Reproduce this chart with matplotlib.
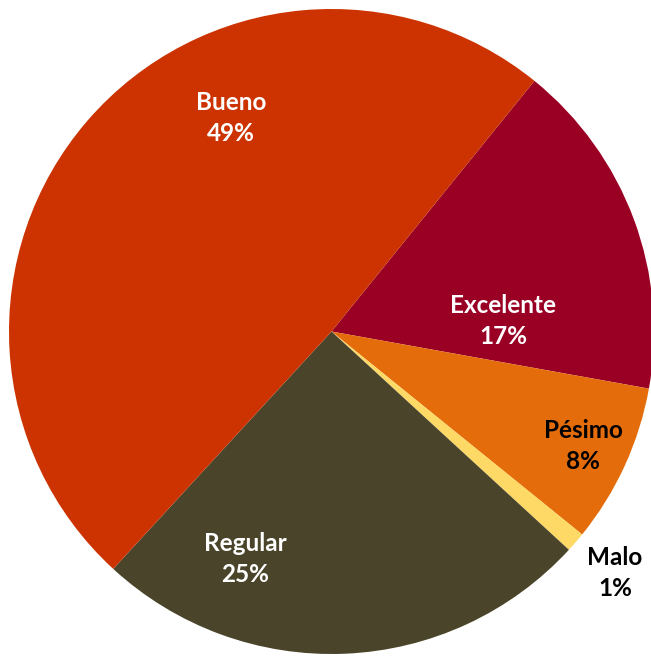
import matplotlib
matplotlib.use("Agg")
import matplotlib.pyplot as plt

# datos del grafico
categorias = ["Excelente", "Pésimo", "Malo", "Regular", "Bueno"]
porcentajes = [17, 8, 1, 25, 49]
colores = ["#990024", "#E46C0A", "#FFD966", "#4A452A", "#CC3300"]
color_texto = ["white", "black", "black", "white", "white"]
# posicion de las etiquetas (en unidades del radio)
pos_etiquetas = [(0.532, 0.033), (0.780, -0.355), (0.879, -0.749),
                 (-0.268, -0.705), (-0.312, 0.662)]

plt.rcParams["font.family"] = ["Lato", "DejaVu Sans"]

W, H = 651, 657
cx, cy, r = 331.5, 331.5, 322.5
fig = plt.figure(figsize=(W / 100, H / 100), dpi=100)
ax = fig.add_axes([0, 0, 1, 1])

wedges, _ = ax.pie(porcentajes, colors=colores, startangle=51, counterclock=False,
                   radius=1, wedgeprops=dict(linewidth=0))

for cat, pct, col, pos in zip(categorias, porcentajes, color_texto, pos_etiquetas):
    ax.text(pos[0], pos[1], f"{cat}\n{pct}%", color=col, fontsize=17.5, fontweight="bold",
            ha="center", va="center", linespacing=1.4)

ax.set_xlim(-cx / r, (W - cx) / r)
ax.set_ylim(-(H - cy) / r, cy / r)
ax.set_aspect("auto")
ax.axis("off")

fig.savefig("out.png", dpi=100)
